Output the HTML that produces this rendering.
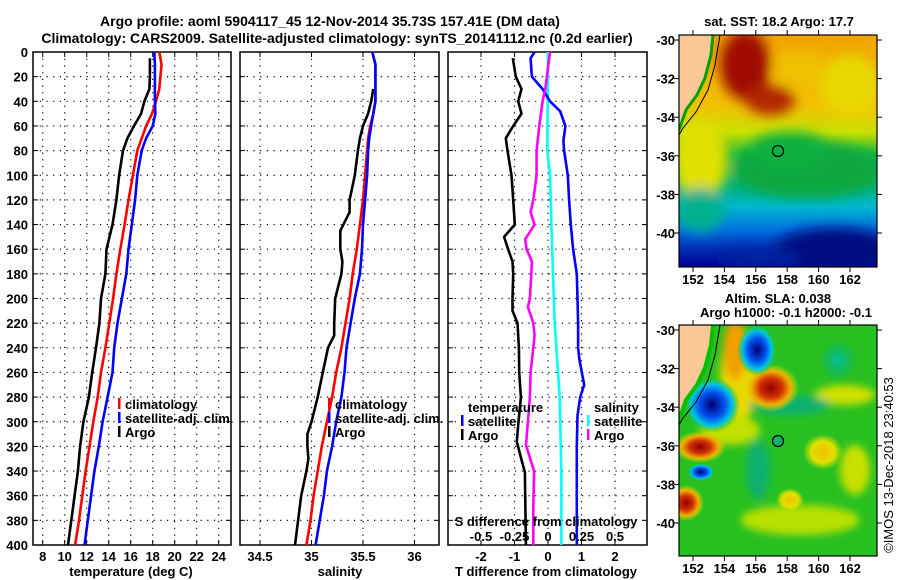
<!DOCTYPE html>
<html><head><meta charset="utf-8"><style>
body{margin:0;background:#fff;}
svg{display:block;font-family:"Liberation Sans",Arial,sans-serif;font-weight:bold;}
</style></head><body>
<svg id="s" width="900" height="580" viewBox="0 0 900 580">
<defs>
<filter id="bl" x="-50%" y="-50%" width="200%" height="200%"><feGaussianBlur stdDeviation="6"/></filter>
<filter id="bl2" x="-50%" y="-50%" width="200%" height="200%"><feGaussianBlur stdDeviation="4"/></filter>
<clipPath id="c1"><rect x="679" y="35" width="198" height="232"/></clipPath>
<clipPath id="c2"><rect x="679" y="325" width="198" height="231"/></clipPath>
<linearGradient id="sstg" x1="0" y1="0" x2="0" y2="1">
<stop offset="0" stop-color="#f0a400"/><stop offset="0.3" stop-color="#f2c000"/><stop offset="0.42" stop-color="#c8e000"/>
<stop offset="0.52" stop-color="#10b840"/><stop offset="0.66" stop-color="#00b080"/><stop offset="0.74" stop-color="#00b8d0"/>
<stop offset="0.84" stop-color="#0070e0"/><stop offset="0.93" stop-color="#0028b0"/><stop offset="1" stop-color="#000090"/>
</linearGradient>
<radialGradient id="rb"><stop offset="0" stop-color="#000070"/><stop offset="0.45" stop-color="#0050f0"/><stop offset="0.75" stop-color="#00c8e0"/><stop offset="1" stop-color="#20c020" stop-opacity="0"/></radialGradient>
<radialGradient id="rr"><stop offset="0" stop-color="#900000"/><stop offset="0.4" stop-color="#d03000"/><stop offset="0.7" stop-color="#f0b000"/><stop offset="1" stop-color="#e0e000" stop-opacity="0"/></radialGradient>
<radialGradient id="ry"><stop offset="0" stop-color="#f0c000"/><stop offset="0.6" stop-color="#e0e000"/><stop offset="1" stop-color="#c0e000" stop-opacity="0"/></radialGradient>
<radialGradient id="rt"><stop offset="0" stop-color="#00c0a0"/><stop offset="1" stop-color="#00b070" stop-opacity="0"/></radialGradient>
</defs>
<text x="330" y="26" font-size="14" text-anchor="middle">Argo profile: aoml 5904117_45 12-Nov-2014 35.73S 157.41E (DM data)</text>
<text x="337" y="43" font-size="14" text-anchor="middle">Climatology: CARS2009. Satellite-adjusted climatology: synTS_20141112.nc (0.2d earlier)</text>
<g id="panels"></g>
<!-- Map 1 SST -->
<g>
<text x="779" y="26" font-size="13" text-anchor="middle">sat. SST: 18.2 Argo: 17.7</text>
<g clip-path="url(#c1)">
<rect x="679" y="35" width="198" height="232" fill="url(#sstg)"/>
<g filter="url(#bl)">
<ellipse cx="700" cy="160" rx="28" ry="40" fill="#e0e000"/>
<ellipse cx="808" cy="170" rx="75" ry="28" fill="#10a840"/>
<ellipse cx="790" cy="150" rx="40" ry="18" fill="#10b040"/>
<ellipse cx="850" cy="85" rx="30" ry="30" fill="#e8d800"/>
<ellipse cx="745" cy="65" rx="25" ry="35" fill="#a01000"/>
<ellipse cx="770" cy="100" rx="25" ry="15" fill="#b02800"/>
<ellipse cx="800" cy="70" rx="25" ry="20" fill="#f0c000"/>
<ellipse cx="700" cy="210" rx="25" ry="22" fill="#00b090"/>
<ellipse cx="835" cy="250" rx="60" ry="22" fill="#000880"/>
<ellipse cx="760" cy="258" rx="40" ry="10" fill="#0020a0"/>
</g>
<polygon points="679,35 713,35 711,55 705,78 697,95 686,110 679,130" fill="#f9c896"/>
<polyline points="713,35 711,55 705,78 697,95 686,110 679,130" fill="none" stroke="#00a000" stroke-width="3"/>
<polyline points="720,35 715,65 708,90 696,112 683,128 679,135" fill="none" stroke="#000" stroke-width="1"/>
<circle cx="778" cy="151" r="5.5" fill="none" stroke="#000" stroke-width="1.2"/>
</g>
<rect x="679" y="35" width="198" height="232" fill="none" stroke="#000" stroke-width="1.2"/>
<g id="m1ax"></g>
</g>
<!-- Map 2 SLA -->
<g>
<text x="778" y="303" font-size="13" text-anchor="middle">Altim. SLA: 0.038</text>
<text x="786" y="317" font-size="13" text-anchor="middle">Argo h1000: -0.1 h2000: -0.1</text>
<g clip-path="url(#c2)">
<rect x="679" y="325" width="198" height="231" fill="#28c020"/>
<g filter="url(#bl2)">
<ellipse cx="740" cy="375" rx="20" ry="45" fill="#e8d800"/>
<ellipse cx="735" cy="350" rx="12" ry="30" fill="#f0a000"/>
<ellipse cx="845" cy="395" rx="30" ry="10" fill="#d0e000"/>
<ellipse cx="730" cy="430" rx="30" ry="15" fill="#c0e000"/>
<ellipse cx="800" cy="520" rx="60" ry="15" fill="#b8e000"/>
<ellipse cx="855" cy="470" rx="15" ry="25" fill="#c8e000"/>
<ellipse cx="790" cy="405" rx="40" ry="10" fill="#10b070"/>
<ellipse cx="758" cy="470" rx="12" ry="30" fill="#10b070"/>
</g>
<ellipse cx="700" cy="447" rx="26" ry="16" fill="url(#rr)"/>
<ellipse cx="686" cy="503" rx="18" ry="18" fill="url(#rr)"/>
<ellipse cx="771" cy="388" rx="28" ry="24" fill="url(#rr)"/>
<ellipse cx="823" cy="452" rx="20" ry="18" fill="url(#ry)"/>
<ellipse cx="790" cy="500" rx="14" ry="12" fill="url(#ry)"/>
<ellipse cx="838" cy="360" rx="20" ry="22" fill="url(#rt)"/>
<ellipse cx="712" cy="405" rx="28" ry="28" fill="url(#rb)"/>
<ellipse cx="757" cy="350" rx="20" ry="26" fill="url(#rb)"/>
<ellipse cx="701" cy="472" rx="14" ry="9" fill="url(#rb)"/>
<polygon points="679,325 713,325 711,345 705,368 697,385 686,400 679,420" fill="#f9c896"/>
<polyline points="713,325 711,345 705,368 697,385 686,400 679,420" fill="none" stroke="#00c000" stroke-width="4"/>
<polyline points="720,325 715,355 708,380 696,402 683,418 679,425" fill="none" stroke="#000" stroke-width="1"/>
<circle cx="778" cy="441" r="5.5" fill="#10b070" stroke="#000" stroke-width="1.2"/>
</g>
<rect x="679" y="325" width="198" height="231" fill="none" stroke="#000" stroke-width="1.2"/>
<g id="m2ax"></g>
</g>
<text transform="translate(893,465) rotate(-90)" font-size="13" font-weight="normal" text-anchor="middle">©IMOS 13-Dec-2018 23:40:53</text>
</svg>
<script>
// ---- data ----
const depthTicks=[0,20,40,60,80,100,120,140,160,180,200,220,240,260,280,300,320,340,360,380,400];
const tempTicks=[8,10,12,14,16,18,20,22,24];
const salTicks=[34.5,35,35.5,36];
const tdTicks=[-2,-1,0,1,2];
const sdTicks=[-0.5,-0.25,0,0.25,0.5];
const sdTickLabels=["-0.5","-0.25","0","0.25","0.5"];
const climDepth=[0,10,20,30,40,50,60,70,80,100,120,140,160,180,200,220,240,260,280,300,320,340,360,380,400];
const climTemp=[18.6,18.8,18.7,18.6,18.3,17.95,17.4,17.0,16.6,16.2,15.8,15.45,15.05,14.7,14.4,14.05,13.7,13.3,13.0,12.6,12.25,11.9,11.6,11.3,10.95];
const satTemp=[18.15,18.2,18.2,18.2,18.2,18.25,18.0,17.4,17.0,16.6,16.4,16.1,15.8,15.6,15.2,14.8,14.5,14.35,13.9,13.45,13.1,12.7,12.4,12.1,11.8];
const argoTDepth=[5,10,20,30,40,50,60,70,80,100,120,140,160,180,200,220,240,260,280,300,320,340,360,380,400];
const argoTemp=[17.75,17.75,17.75,17.7,17.25,16.95,16.3,15.7,15.3,14.95,14.7,14.35,13.8,13.7,13.3,13.15,12.85,12.5,12.2,11.7,11.4,11.2,10.9,10.6,10.3];
const climSal=[35.59,35.62,35.62,35.62,35.62,35.6,35.57,35.55,35.54,35.52,35.5,35.47,35.44,35.4,35.37,35.33,35.29,35.24,35.2,35.15,35.1,35.06,35.02,34.99,34.95];
const satSal=[35.59,35.62,35.62,35.62,35.62,35.6,35.58,35.56,35.55,35.54,35.52,35.5,35.49,35.47,35.42,35.38,35.34,35.32,35.29,35.24,35.2,35.15,35.12,35.08,35.04];
const argoSDepth=[30,40,50,60,70,80,100,120,130,145,160,170,180,200,220,230,240,260,280,300,310,320,330,340,360,380,400];
const argoSal=[35.6,35.58,35.55,35.5,35.47,35.45,35.42,35.37,35.37,35.28,35.28,35.3,35.29,35.23,35.22,35.22,35.16,35.11,35.06,35.0,34.96,34.96,34.97,34.95,34.9,34.87,34.84];
const argoTdDepth=[5,20,30,40,50,60,70,80,100,120,140,150,160,170,180,200,210,220,240,260,280,300,316,330,341,360,380,400];
const argoTd=[-1.05,-0.96,-0.79,-0.89,-0.79,-1.04,-1.26,-1.21,-1.09,-1.04,-0.99,-1.31,-1.19,-1.06,-1.04,-1.06,-1.06,-0.91,-0.87,-0.86,-0.81,-0.88,-0.93,-0.8,-0.69,-0.68,-0.67,-0.66];
const satTdDepth=[0,5,20,30,40,48,60,72,80,100,120,140,160,180,200,220,240,250,270,280,295,320,400];
const satTd=[-0.40,-0.52,-0.48,-0.16,0.06,0.36,0.52,0.46,0.48,0.59,0.63,0.68,0.75,0.86,0.88,0.90,0.90,0.94,1.08,0.96,0.88,0.86,0.86];
const argoSdDepth=[0,30,40,60,80,100,120,130,140,152,160,170,180,200,207,220,230,240,260,280,300,319,340,370,400];
const argoSd=[0.015,-0.02,-0.04,-0.065,-0.085,-0.085,-0.11,-0.13,-0.10,-0.17,-0.16,-0.12,-0.125,-0.135,-0.15,-0.11,-0.10,-0.11,-0.13,-0.135,-0.15,-0.164,-0.104,-0.11,-0.11];
const satSdDepth=[0,80,100,140,180,220,260,280,345,400];
const satSd=[0,-0.005,0.015,0.025,0.037,0.05,0.075,0.087,0.1,0.1];
const latTicks=[-30,-32,-34,-36,-38,-40];
const lonTicks=[152,154,156,158,160,162];

// ---- axes ----
const NS='http://www.w3.org/2000/svg';
const TOP=52,BOT=545;
const yD=d=>TOP+d*(BOT-TOP)/400;
const xT=t=>42.7+(t-8)*11;
const xS=s=>260+(s-34.5)*103;
const xTd=t=>548+t*33.5;
const xSd=s=>548+s*134;
const panels=document.getElementById('panels');
function mk(tag,attrs,parent){const e=document.createElementNS(NS,tag);for(const k in attrs)e.setAttribute(k,attrs[k]);(parent||panels).appendChild(e);return e;}
function txt(x,y,s,anchor,size,parent){const e=mk('text',{x:x,y:y,'font-size':size||13,'text-anchor':anchor||'middle'},parent);e.textContent=s;return e;}
function frame(x0,x1,name,vx){
  const g=mk('g',{});
  
  
  depthTicks.forEach(d=>{if(d>0&&d<400){mk('line',{x1:x0,x2:x1,y1:yD(d),y2:yD(d),stroke:'#000','stroke-width':1.2,'stroke-dasharray':'1.2 5.5'},g);
    mk('line',{x1:x0,x2:x0+5,y1:yD(d),y2:yD(d),stroke:'#000'},g);mk('line',{x1:x1-5,x2:x1,y1:yD(d),y2:yD(d),stroke:'#000'},g);}});
  vx.forEach(x=>{mk('line',{x1:x,x2:x,y1:TOP,y2:BOT,stroke:'#000','stroke-width':1.2,'stroke-dasharray':'1.2 5.5'},g);
    mk('line',{x1:x,x2:x,y1:BOT-5,y2:BOT,stroke:'#000'},g);mk('line',{x1:x,x2:x,y1:TOP,y2:TOP+5,stroke:'#000'},g);});
  mk('rect',{x:x0,y:TOP,width:x1-x0,height:BOT-TOP,fill:'none',stroke:'#000','stroke-width':1.5},g);
  return g;
}
function line(depths,vals,fx,color,w,name){
  const pts=depths.map((d,i)=>fx(vals[i]).toFixed(1)+','+yD(d).toFixed(1)).join(' ');
  const e=mk('polyline',{points:pts,fill:'none',stroke:color,'stroke-width':w,'stroke-linejoin':'round'});
  
  
}
function legEntry(x,y,color,label,name){
  const g=mk('g',{});
  
  
  mk('rect',{x:x,y:y-11,width:2.5,height:11,fill:color},g);
  txt(x+7,y,label,'start',13,g);
}
// panel 1
frame(33,231,'temperature-panel',tempTicks.map(xT));
line(climDepth,climTemp,xT,'#f00',2.6,'temp-climatology-line');
line(climDepth,satTemp,xT,'#00f',2.6,'temp-satellite-line');
line(argoTDepth,argoTemp,xT,'#000',2.6,'temp-argo-line');
depthTicks.forEach(d=>{const t=txt(28,yD(d)+5,String(d),'end');});
tempTicks.forEach(t=>{const e=txt(xT(t),561,String(t));});
txt(131,576,'temperature (deg C)');
legEntry(118,409,'#f00','climatology','legend-climatology');
legEntry(118,423,'#00f','satellite-adj. clim.','legend-satellite-adj');
legEntry(118,437,'#000','Argo','legend-argo');
// panel 2
frame(240,439,'salinity-panel',salTicks.map(xS));
line(climDepth,climSal,xS,'#f00',2.6,'sal-climatology-line');
line(climDepth,satSal,xS,'#00f',2.6,'sal-satellite-line');
line(argoSDepth,argoSal,xS,'#000',2.6,'sal-argo-line');
salTicks.forEach(s=>{const e=txt(xS(s),561,String(s));});
txt(340,576,'salinity');
legEntry(328,409,'#f00','climatology','legend-climatology-2');
legEntry(328,423,'#00f','satellite-adj. clim.','legend-satellite-adj-2');
legEntry(328,437,'#000','Argo','legend-argo-2');
// panel 3
frame(448,647,'difference-panel',tdTicks.map(xTd));
line(satSdDepth,satSd,xSd,'#0ff',2.6,'sal-diff-satellite-line');
line(satTdDepth,satTd,xTd,'#00f',2.6,'temp-diff-satellite-line');
line(argoSdDepth,argoSd,xSd,'#f0f',2.6,'sal-diff-argo-line');
line(argoTdDepth,argoTd,xTd,'#000',2.6,'temp-diff-argo-line');
tdTicks.forEach(t=>{const e=txt(xTd(t),561,String(t));});
sdTicks.forEach((s,i)=>{const e=txt(xSd(s),541,sdTickLabels[i]);});
txt(546,526,'S difference from climatology');
txt(546,576,'T difference from climatology');
txt(468,412,'temperature','start');
legEntry(461,426,'#00f','satellite','legend-t-satellite');
legEntry(461,440,'#000','Argo','legend-t-argo');
txt(594,412,'salinity','start');
legEntry(587,426,'#0ff','satellite','legend-s-satellite');
legEntry(587,440,'#f0f','Argo','legend-s-argo');
// map axes
function mapAxes(id,y0,y1,lat30){
  const g=document.getElementById(id);
  latTicks.forEach(l=>{const y=lat30+(-30-l)*19.3;
    mk('line',{x1:674,x2:679,y1:y,y2:y,stroke:'#000'},g);mk('line',{x1:877,x2:882,y1:y,y2:y,stroke:'#000'},g);
    const t=txt(675,y+5,String(l),'end',13,g);});
  lonTicks.forEach(l=>{const x=693+(l-152)*15.7;
    mk('line',{x1:x,x2:x,y1:y1,y2:y1+5,stroke:'#000'},g);mk('line',{x1:x,x2:x,y1:y0-5,y2:y0,stroke:'#000'},g);
    const t=txt(x,y1+17,String(l),'middle',13,g);});
}
mapAxes('m1ax',35,267,40);
mapAxes('m2ax',325,556,330);
</script>
</body></html>
